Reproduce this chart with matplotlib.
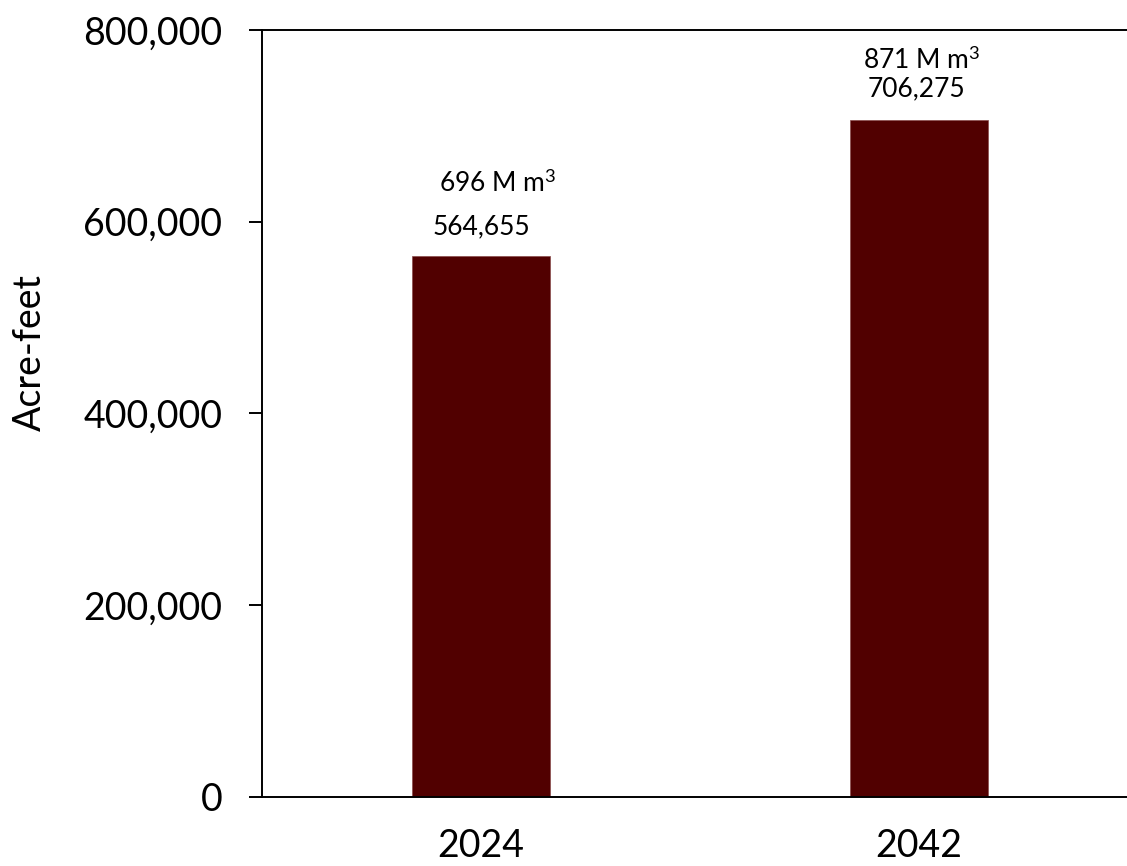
import numpy as np
import matplotlib.pyplot as plt

# data
years = ["2024", "2042"]
acre_feet = [564655, 706275]
volume_labels = ["696 M m$^{3}$", "871 M m$^{3}$"]
value_labels = ["564,655", "706,275"]
yticks = [0, 200000, 400000, 600000, 800000]
ytick_labels = ["0", "200,000", "400,000", "600,000", "800,000"]

plt.rcParams['font.family'] = ['Lato', 'DejaVu Sans']
plt.rcParams['mathtext.fontset'] = 'custom'
plt.rcParams['mathtext.rm'] = 'Lato'
plt.rcParams['mathtext.it'] = 'Lato:italic'
plt.rcParams['mathtext.bf'] = 'Lato:bold'

fig = plt.figure(figsize=(11.27, 8.66), dpi=100)
ax = fig.add_axes([0.2325, 0.0797, 0.7773, 0.8857])

x = np.arange(len(years))
ax.bar(x, acre_feet, width=0.313, color="#510000", edgecolor="#8a4a4a", linewidth=0.5)

ax.set_xlim(-0.5, 1.5)
ax.set_ylim(0, 800000)
ax.set_yticks(yticks)
ax.set_yticklabels(ytick_labels)
ax.set_xticks(x)
ax.set_xticklabels(years)

ax.tick_params(axis="y", direction="out", length=9.5, width=1.4, labelsize=27, pad=19)
ax.tick_params(axis="x", length=0, labelsize=27, pad=22)

for s in ["left", "bottom", "top"]:
    ax.spines[s].set_linewidth(1.4)
ax.spines["right"].set_visible(False)

ax.set_ylabel("Acre-feet", fontsize=27)
ax.yaxis.set_label_coords(-0.245, 0.58)

# labels above bars (pixel offsets from bar top, baseline aligned)
val_off = [(0, 21), (-3, 24)]
vol_off = [(17, 64), (3, 51)]
for i in range(len(years)):
    ax.annotate(value_labels[i], (x[i], acre_feet[i]), xytext=val_off[i],
                textcoords="offset pixels", ha="center", va="baseline", fontsize=19)
    ax.annotate(volume_labels[i], (x[i], acre_feet[i]), xytext=vol_off[i],
                textcoords="offset pixels", ha="center", va="baseline", fontsize=19)

fig.savefig("out.png", dpi=100)
